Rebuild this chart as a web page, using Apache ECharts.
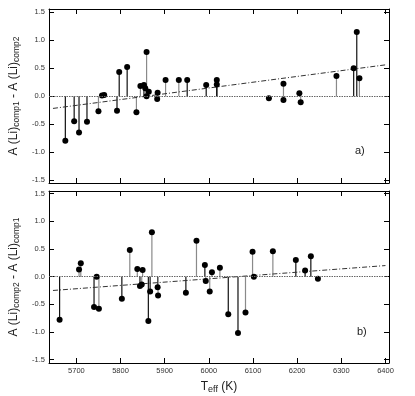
<!DOCTYPE html>
<html>
<head>
<meta charset="utf-8">
<script src="https://cdn.jsdelivr.net/npm/echarts@6/dist/echarts.min.js"></script>
<style>
  html, body { margin: 0; padding: 0; background: #fff; }
  #main { width: 415px; height: 396px; }
</style>
</head>
<body>
<div id="main"></div>
<script>
// 刻度
let xTicks = [5700, 5800, 5900, 6000, 6100, 6200, 6300, 6400];
let yTicks = [-1.5, -1.0, -0.5, 0.0, 0.5, 1.0, 1.5];

// a) comp1 - comp2   [Teff, ΔA(Li)]
let topDark = [
    [5675, -0.80], [5695, -0.45], [5706, -0.65], [5724, -0.46], [5792, -0.26],
    [5797, 0.43], [5815, 0.52], [5853, 0.20], [5951, 0.29], [5994, 0.20],
    [6018, 0.29], [6018, 0.21], [6328, 0.50], [6335, 1.15]
];
let topLight = [
    [5750, -0.27], [5758, 0.01], [5763, 0.02], [5836, -0.29], [5845, 0.18],
    [5856, 0.14], [5859, 0.79], [5859, 0.00], [5864, 0.08], [5884, 0.06],
    [5883, -0.05], [5902, 0.29], [5932, 0.29], [6136, -0.04], [6169, 0.22],
    [6169, -0.07], [6205, 0.05], [6208, -0.11], [6289, 0.36], [6341, 0.32]
];
let topFit = [[5647, -0.22], [6400, 0.56]];

// b) comp2 - comp1
let botDark = [
    [5662, -0.78], [5740, -0.55], [5746, 0.00], [5803, -0.40], [5844, -0.17],
    [5863, -0.80], [5867, -0.27], [5884, -0.19], [5948, -0.29], [5991, 0.21],
    [6044, -0.68], [6066, -1.02], [6197, 0.30], [6218, 0.11], [6231, 0.37],
    [6247, -0.04]
];
let botLight = [
    [5706, 0.13], [5710, 0.24], [5751, -0.58], [5821, 0.48], [5838, 0.14],
    [5848, -0.14], [5850, 0.12], [5871, 0.80], [5885, -0.34], [5972, 0.65],
    [5993, -0.08], [6002, -0.27], [6007, 0.08], [6025, 0.16], [6083, -0.65],
    [6099, 0.45], [6102, 0.00], [6145, 0.46]
];
let botFit = [[5647, -0.25], [6400, 0.20]];

const FONT = 'Liberation Sans';
const X_MIN = 5638, X_MAX = 6408;

// 竖线（从0到数据点）
function stemSeries(data, idx, color) {
    return {
        type: 'custom',
        xAxisIndex: idx, yAxisIndex: idx,
        data: data,
        encode: { x: 0, y: 1 },
        silent: true,
        z: 2,
        renderItem: function (params, api) {
            let x = api.value(0), y = api.value(1);
            let p0 = api.coord([x, 0]);
            let p1 = api.coord([x, y]);
            return {
                type: 'line',
                shape: { x1: p0[0], y1: p0[1], x2: p1[0], y2: p1[1] },
                style: { stroke: color, lineWidth: 1.2 }
            };
        }
    };
}

function dotSeries(data, idx) {
    return {
        type: 'scatter',
        xAxisIndex: idx, yAxisIndex: idx,
        data: data,
        symbol: 'circle',
        symbolSize: 6,
        itemStyle: { color: '#000', opacity: 1 },
        silent: true,
        z: 4
    };
}

function fitSeries(data, idx) {
    return {
        type: 'line',
        xAxisIndex: idx, yAxisIndex: idx,
        data: data,
        symbol: 'none',
        silent: true,
        lineStyle: { color: '#333', width: 1, type: [5, 2, 1, 2] },
        markLine: {
            silent: true,
            symbol: 'none',
            label: { show: false },
            lineStyle: { color: '#666', width: 1, type: [1.5, 1], opacity: 1 },
            data: [{ yAxis: 0 }]
        },
        z: 3
    };
}

function xAx(grid, pos, labels) {
    return {
        type: 'value', gridIndex: grid, position: pos,
        min: X_MIN, max: X_MAX,
        name: (labels ? 'T{s|eff} (K)' : ''),
        nameLocation: 'middle', nameGap: 16,
        nameTextStyle: {
            fontFamily: FONT, fontSize: 12, color: '#222',
            rich: { s: { fontFamily: FONT, fontSize: 9, padding: [6, 0, 0, 0], color: '#222' } }
        },
        axisLine: { show: true, onZero: false, lineStyle: { color: '#000', width: 1 } },
        axisTick: { show: true, inside: true, length: 5, customValues: xTicks, lineStyle: { color: '#000' } },
        axisLabel: {
            show: labels, customValues: xTicks, fontFamily: FONT, fontSize: 7.5, color: '#333', margin: 4,
            formatter: function (v) { return String(v); }
        },
        splitLine: { show: false }
    };
}

function yAx(grid, pos, min, max, name) {
    return {
        type: 'value', gridIndex: grid, position: pos,
        min: min, max: max,
        name: name || '',
        nameLocation: 'middle', nameGap: 22, nameRotate: 90,
        nameTextStyle: {
            fontFamily: FONT, fontSize: 12, color: '#222',
            rich: {
                n: { fontFamily: FONT, fontSize: 12, color: '#222' },
                s: { fontFamily: FONT, fontSize: 8.5, padding: [5, 0, 0, 0], color: '#222' }
            }
        },
        axisLine: { show: true, onZero: false, lineStyle: { color: '#000', width: 1 } },
        axisTick: { show: true, inside: true, length: 5, customValues: yTicks, lineStyle: { color: '#000' } },
        axisLabel: {
            show: pos === 'left', customValues: yTicks, fontFamily: FONT, fontSize: 7.5, color: '#333', margin: 4,
            formatter: function (v) { return v.toFixed(1); }
        },
        splitLine: { show: false }
    };
}

let myChart = echarts.init(document.getElementById('main'), null, { renderer: 'canvas' });
let option = {
    backgroundColor: '#fff',
    animation: false,
    grid: [
        { left: 49, right: 26, top: 9, height: 174 },
        { left: 49, right: 26, top: 191, height: 172 }
    ],
    xAxis: [
        xAx(0, 'bottom', false), xAx(0, 'top', false),
        xAx(1, 'bottom', true), xAx(1, 'top', false)
    ],
    yAxis: [
        yAx(0, 'left', -1.555, 1.56, '{n|A (Li)}{s|comp1}{n| - A (Li)}{s|comp2}'),
        yAx(0, 'right', -1.555, 1.56),
        yAx(1, 'left', -1.56, 1.547, '{n|A (Li)}{s|comp2}{n| - A (Li)}{s|comp1}'),
        yAx(1, 'right', -1.56, 1.547)
    ],
    series: [
        fitSeries(topFit, 0),
        stemSeries(topDark, 0, '#111'),
        stemSeries(topLight, 0, '#8a8a8a'),
        dotSeries(topDark, 0),
        dotSeries(topLight, 0),
        fitSeries(botFit, 2),
        stemSeries(botDark, 2, '#111'),
        stemSeries(botLight, 2, '#8a8a8a'),
        dotSeries(botDark, 2),
        dotSeries(botLight, 2)
    ],
    graphic: [
        { type: 'text', left: 355, top: 145, style: { text: 'a)', font: '11px "Liberation Sans"', fill: '#222' } },
        { type: 'text', left: 357, top: 326, style: { text: 'b)', font: '11px "Liberation Sans"', fill: '#222' } }
    ]
};
myChart.setOption(option);
</script>
</body>
</html>
